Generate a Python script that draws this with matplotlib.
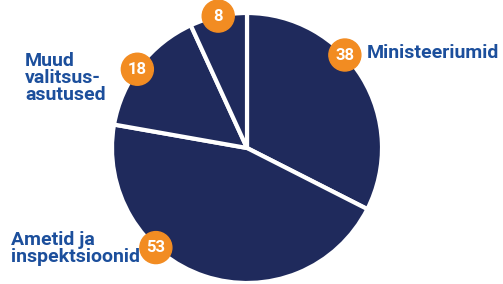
import numpy as np
import matplotlib.pyplot as plt

# andmed (päripäeva alates kella 12-st)
values = [38, 53, 18, 8]
labels = ['Ministeeriumid', 'Ametid ja\ninspektsioonid', 'Muud\nvalitsus-\nasutused', '']
badge_shift = [12, -24, 2, 0]   # kraadides, märgi nihe sektori keskkohast

navy = '#1f2a5c'
orange = '#f28c22'
blue = '#1c4f9c'

W, H = 503, 284
fig = plt.figure(figsize=(W / 100, H / 100), dpi=100)
ax = fig.add_axes([0, 0, 1, 1])

cx, cy, r = 247, 136, 135
wedges, _ = ax.pie(values, startangle=90, counterclock=False, colors=[navy] * 4,
                   center=(cx, cy), radius=r, frame=True,
                   wedgeprops=dict(edgecolor='white', linewidth=3))
ax.set_xlim(0, W)
ax.set_ylim(0, H)
ax.set_aspect('equal')
ax.axis('off')

for w, v, s in zip(wedges, values, badge_shift):
    mid = np.deg2rad((w.theta1 + w.theta2) / 2 + s)
    bx, by = cx + r * np.cos(mid), cy + r * np.sin(mid)
    ax.add_patch(plt.Circle((bx, by), 16, color=orange, zorder=5))
    ax.text(bx, by, str(v), color='white', fontsize=12, fontweight='bold',
            family='Roboto', ha='center', va='center', zorder=6)

tkw = dict(color=blue, fontsize=14, fontweight='bold', family='Roboto',
           ha='left', va='baseline', linespacing=0.92)
ax.text(367, H - 58, labels[0], **tkw)
ax.text(11, H - 262, labels[1], **tkw)
ax.text(25, H - 100, labels[2], **tkw)

fig.savefig('out.png', dpi=100)
